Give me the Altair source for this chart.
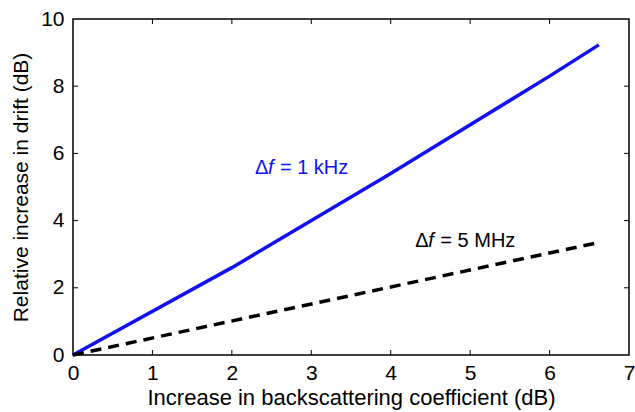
import altair as alt
import pandas as pd

# data
x_1khz = [0, 2, 4, 6, 6.62]
y_1khz = [0, 2.6, 5.4, 8.3, 9.23]
x_5mhz = [0, 6.62]
y_5mhz = [0, 3.35]

x_ticks = [0, 1, 2, 3, 4, 5, 6, 7]
y_ticks = [0, 2, 4, 6, 8, 10]

label_x = [2.29, 4.31]
label_y = [5.57, 3.39]
label_rest = ["= 1 kHz", "= 5 MHz"]
label_color = ["#1010f0", "#000000"]

FONT = "Liberation Sans"
W, H = 556, 336

df1 = pd.DataFrame({"x": x_1khz, "y": y_1khz})
df2 = pd.DataFrame({"x": x_5mhz, "y": y_5mhz})
xscale = alt.Scale(domain=[0, 7], nice=False, zero=False)
yscale = alt.Scale(domain=[0, 10], nice=False, zero=False)

xaxis = alt.Axis(values=x_ticks, format="d", tickSize=0, domain=False, grid=False,
                 labelFont=FONT, labelFontSize=21, labelColor="black", labelPadding=7,
                 labelOverlap=False, labelFlush=False,
                 title="Increase in backscattering coefficient (dB)", titleFont=FONT,
                 titleFontSize=22, titleFontWeight="normal", titleColor="black", titlePadding=4)
yaxis = alt.Axis(values=y_ticks, format="d", tickSize=0, domain=False, grid=False,
                 labelFont=FONT, labelFontSize=21, labelColor="black", labelPadding=9,
                 labelOverlap=False, labelFlush=False,
                 title="Relative increase in drift (dB)", titleFont=FONT,
                 titleFontSize=21, titleFontWeight="normal", titleColor="black", titlePadding=9)

blue = alt.Chart(df1).mark_line(color="#1010f0", strokeWidth=3.5).encode(
    x=alt.X("x:Q", scale=xscale, axis=xaxis),
    y=alt.Y("y:Q", scale=yscale, axis=yaxis),
)
dash = alt.Chart(df2).mark_line(color="black", strokeWidth=3.5, strokeDash=[11, 7]).encode(
    x=alt.X("x:Q", scale=xscale),
    y=alt.Y("y:Q", scale=yscale),
)

xt = pd.DataFrame({"v": x_ticks[1:-1]})
yt = pd.DataFrame({"v": y_ticks[1:-1]})
tk = 5
ticks_bottom = alt.Chart(xt).mark_rule(color="black", strokeWidth=1).encode(
    x=alt.X("v:Q", scale=xscale), y=alt.value(H), y2=alt.value(H - tk))
ticks_top = alt.Chart(xt).mark_rule(color="black", strokeWidth=1).encode(
    x=alt.X("v:Q", scale=xscale), y=alt.value(0), y2=alt.value(tk))
ticks_left = alt.Chart(yt).mark_rule(color="black", strokeWidth=1).encode(
    y=alt.Y("v:Q", scale=yscale), x=alt.value(0), x2=alt.value(tk))
ticks_right = alt.Chart(yt).mark_rule(color="black", strokeWidth=1).encode(
    y=alt.Y("v:Q", scale=yscale), x=alt.value(W), x2=alt.value(W - tk))

lab = pd.DataFrame({"x": label_x, "y": label_y, "rest": label_rest, "c": label_color,
                    "d": ["\u0394", "\u0394"], "f": ["f", "f"]})
enc = dict(x=alt.X("x:Q", scale=xscale), y=alt.Y("y:Q", scale=yscale),
           color=alt.Color("c:N", scale=None))
t_delta = alt.Chart(lab).mark_text(font=FONT, fontSize=20, align="left", baseline="middle").encode(
    text="d:N", **enc)
t_f = alt.Chart(lab).mark_text(font=FONT, fontSize=20, fontStyle="italic", align="left",
                               baseline="middle", dx=13).encode(text="f:N", **enc)
t_rest = alt.Chart(lab).mark_text(font=FONT, fontSize=20, align="left", baseline="middle",
                                  dx=25).encode(text="rest:N", **enc)

chart = alt.layer(blue, dash, ticks_bottom, ticks_top, ticks_left, ticks_right,
                  t_delta, t_f, t_rest).properties(
    width=W, height=H,
    autosize=alt.AutoSizeParams(type="none"),
    padding={"left": 73, "top": 19, "right": 6, "bottom": 57},
    background="white",
).configure_view(stroke="black", strokeWidth=1.5)

chart.save("out.html", embed_options={"renderer": "svg", "actions": False})
